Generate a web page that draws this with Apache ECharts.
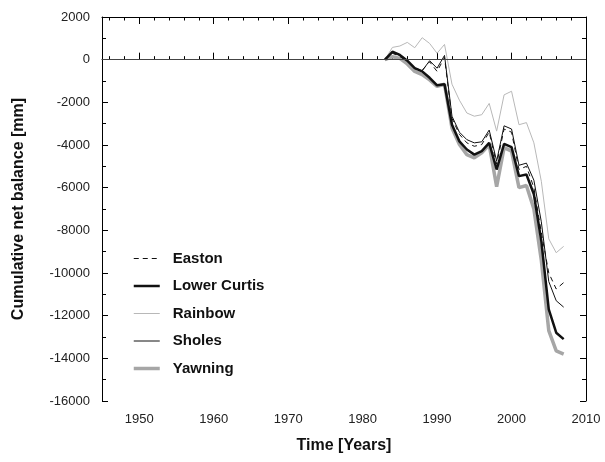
<!DOCTYPE html>
<html lang="en">
<head>
    <meta charset="UTF-8">
    <title>Cumulative net balance</title>
    <script src="https://cdn.jsdelivr.net/npm/echarts@6/dist/echarts.min.js"></script>
    <style>
        * {
            margin: 0;
            padding: 0
        }
    </style>
</head>
<body>
<div id="main" style="width:605px;height:462px;"></div>
<script>
    // years of record
    var years = [1983, 1984, 1985, 1986, 1987, 1988, 1989, 1990, 1991, 1992, 1993, 1994, 1995,
        1996, 1997, 1998, 1999, 2000, 2001, 2002, 2003, 2004, 2005, 2006, 2007];

    var easton = [0, 300, 150, -80, -400, -500, -100, -550, 100, -2750, -3500, -3900, -4060,
        -3980, -3400, -4900, -3250, -3400, -5150, -5000, -6000, -8100, -10000, -10750, -10450];
    var lowerCurtis = [0, 370, 220, -50, -400, -550, -850, -1200, -1150, -3050, -3830, -4210, -4450,
        -4290, -3900, -5150, -3950, -4100, -5460, -5380, -6310, -8500, -11700, -12800, -13100];
    var rainbow = [0, 575, 640, 810, 560, 1030, 760, 300, 715, -1150, -1900, -2500, -2650,
        -2580, -2050, -3350, -1650, -1480, -3050, -2950, -3900, -5700, -8400, -9050, -8750];
    var sholes = [0, 350, 200, -60, -420, -520, -50, -400, 200, -2650, -3400, -3750, -3900,
        -3850, -3300, -4750, -3100, -3250, -4950, -4850, -5650, -7600, -10400, -11300, -11600];
    var yawning = [0, 140, 60, -200, -550, -700, -950, -1250, -1150, -3200, -3980, -4450, -4600,
        -4370, -3980, -5950, -4120, -4290, -6000, -5900, -7000, -9400, -12700, -13650, -13800];

    // tick positions on the time axis
    var decadeTicks = [1950, 1960, 1970, 1980, 1990, 2000, 2010];
    var minorTicks = [];
    for (var y = 1946; y <= 2010; y += 2) minorTicks.push(y);

    function pairs(vals) {
        var out = [];
        for (var i = 0; i < years.length; i++) out.push([years[i], vals[i]]);
        return out;
    }

    function plain(v) {
        return String(v);
    }

    var font = "'Liberation Sans', Arial, sans-serif";

    var myChart = echarts.init(document.getElementById('main'));

    var baseX = {
        type: 'value',
        min: 1945,
        max: 2010,
        gridIndex: 0,
        splitLine: {show: false},
        axisLine: {show: true, lineStyle: {color: '#000', width: 1}},
        axisLabel: {show: false}
    };

    option = {
        animation: false,
        textStyle: {fontFamily: font},
        grid: {left: 102, right: 19, top: 17, bottom: 61, containLabel: false},
        legend: {
            data: [
                {name: 'Easton', lineStyle: {width: 1}},
                {name: 'Lower Curtis', lineStyle: {width: 2.5}},
                {name: 'Rainbow', lineStyle: {width: 1}},
                {name: 'Sholes', lineStyle: {width: 1}},
                {name: 'Yawning', lineStyle: {width: 3.5}}
            ],
            orient: 'vertical',
            left: 127,
            top: 246,
            itemWidth: 26,
            itemHeight: 16,
            itemGap: 12.5,
            itemStyle: {opacity: 0},
            textStyle: {fontFamily: font, fontSize: 15, fontWeight: 'bold', color: '#111', padding: [0, 0, 0, 8]}
        },
        xAxis: [
            Object.assign({}, baseX, {
                position: 'bottom',
                name: 'Time [Years]',
                nameLocation: 'middle',
                nameGap: 37,
                nameTextStyle: {fontFamily: font, fontSize: 16, fontWeight: 'bold', color: '#111'},
                axisTick: {inside: true, length: 7, customValues: decadeTicks, lineStyle: {color: '#000'}},
                axisLabel: {show: true, customValues: decadeTicks, formatter: plain, margin: 12, fontSize: 13, color: '#222', fontFamily: font}
            }),
            Object.assign({}, baseX, {
                position: 'bottom',
                axisLine: {show: false},
                axisTick: {inside: true, length: 3.5, customValues: minorTicks, lineStyle: {color: '#000'}}
            }),
            Object.assign({}, baseX, {
                position: 'top',
                axisTick: {inside: true, length: 7, customValues: decadeTicks, lineStyle: {color: '#000'}}
            }),
            Object.assign({}, baseX, {
                position: 'top',
                axisLine: {show: false},
                axisTick: {inside: true, length: 3.5, customValues: minorTicks, lineStyle: {color: '#000'}}
            })
        ],
        yAxis: [
            {
                type: 'value',
                min: -16000,
                max: 2000,
                interval: 2000,
                position: 'left',
                name: 'Cumulative net balance [mm]',
                nameLocation: 'middle',
                nameGap: 75,
                nameTextStyle: {fontFamily: font, fontSize: 16, fontWeight: 'bold', color: '#111'},
                splitLine: {show: false},
                axisLine: {show: true, lineStyle: {color: '#000', width: 1}},
                axisTick: {inside: true, length: 6, lineStyle: {color: '#000'}},
                minorTick: {show: true, splitNumber: 2, length: 4, lineStyle: {color: '#000'}},
                axisLabel: {margin: 12, fontSize: 13, color: '#222', fontFamily: font, formatter: plain}
            },
            {
                type: 'value',
                min: -16000,
                max: 2000,
                interval: 2000,
                position: 'right',
                splitLine: {show: false},
                axisLine: {show: true, lineStyle: {color: '#000', width: 1}},
                axisTick: {inside: true, length: 6, lineStyle: {color: '#000'}},
                minorTick: {show: true, splitNumber: 2, length: 4, lineStyle: {color: '#000'}},
                axisLabel: {show: false}
            }
        ],
        series: [
            {
                name: 'Yawning',
                type: 'line',
                symbol: 'none',
                data: pairs(yawning),
                lineStyle: {color: '#a6a6a6', width: 3.5},
                itemStyle: {color: '#a6a6a6'},
                markLine: {
                    silent: true,
                    symbol: ['none', 'none'],
                    label: {show: false},
                    lineStyle: {color: '#444', width: 1, type: 'solid'},
                    data: [{yAxis: 0}]
                }
            },
            {
                name: 'Rainbow',
                type: 'line',
                symbol: 'none',
                data: pairs(rainbow),
                lineStyle: {color: '#b8b8b8', width: 1},
                itemStyle: {color: '#b8b8b8'}
            },
            {
                name: 'Lower Curtis',
                type: 'line',
                symbol: 'none',
                data: pairs(lowerCurtis),
                lineStyle: {color: '#111', width: 2.5},
                itemStyle: {color: '#111'}
            },
            {
                name: 'Sholes',
                type: 'line',
                symbol: 'none',
                data: pairs(sholes),
                lineStyle: {color: '#111', width: 1},
                itemStyle: {color: '#111'}
            },
            {
                name: 'Easton',
                type: 'line',
                symbol: 'none',
                data: pairs(easton),
                lineStyle: {color: '#111', width: 1, type: [5, 4]},
                itemStyle: {color: '#111'}
            }
        ]
    };

    myChart.setOption(option);
</script>
</body>
</html>
